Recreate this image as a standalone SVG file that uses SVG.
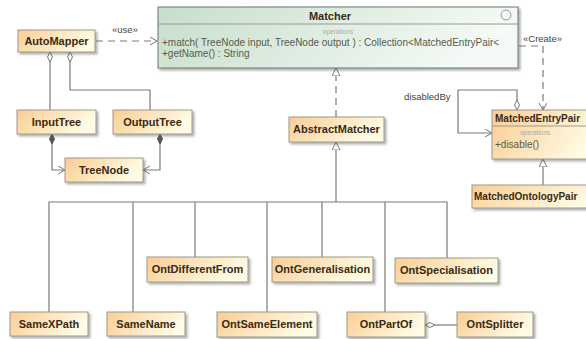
<svg xmlns="http://www.w3.org/2000/svg" width="586" height="339" viewBox="0 0 586 339">
<defs>
<linearGradient id="gOr" x1="0" y1="0" x2="1" y2="0.3"><stop offset="0" stop-color="#fbcd95"/><stop offset="1" stop-color="#fffbe4"/></linearGradient>
<linearGradient id="gGr" x1="0" y1="0" x2="1" y2="0.2"><stop offset="0" stop-color="#c6decb"/><stop offset="1" stop-color="#f5faf6"/></linearGradient>
<filter id="sh" x="-10%" y="-20%" width="130%" height="160%"><feDropShadow dx="2" dy="2" stdDeviation="1" flood-color="#555" flood-opacity="0.45"/></filter>
<marker id="tri" markerUnits="userSpaceOnUse" markerWidth="10" markerHeight="10" refX="8" refY="4" orient="auto"><path d="M0,0 L8,4 L0,8 z" fill="#fff" stroke="#777" stroke-width="1"/></marker>
<marker id="arr" markerUnits="userSpaceOnUse" markerWidth="10" markerHeight="10" refX="7" refY="4" orient="auto"><path d="M0,0 L7,4 L0,8" fill="none" stroke="#777" stroke-width="1"/></marker>
<marker id="dia" markerUnits="userSpaceOnUse" markerWidth="12" markerHeight="8" refX="0" refY="3" orient="auto"><path d="M0,3 L5,0.5 L10,3 L5,5.5 z" fill="#fff" stroke="#777" stroke-width="1"/></marker>
<marker id="fdia" markerUnits="userSpaceOnUse" markerWidth="12" markerHeight="8" refX="0" refY="3" orient="auto"><path d="M0,3 L5,0.5 L10,3 L5,5.5 z" fill="#555" stroke="#555" stroke-width="1"/></marker>
</defs>
<style>
.box{fill:url(#gOr);stroke:#9a9a8a;stroke-width:1;filter:url(#sh)}
.gbox{fill:url(#gGr);stroke:#7d8a80;stroke-width:1.2;filter:url(#sh)}
.nm{font-family:"Liberation Sans",Arial,sans-serif;font-weight:bold;font-size:11px;fill:#3a2a12;text-anchor:middle}
.nl{font-family:"Liberation Sans",Arial,sans-serif;font-weight:bold;font-size:10px;fill:#3a2a12}
.op{font-family:"Liberation Sans",Arial,sans-serif;font-size:6.5px;fill:#aaa}
.mt{font-family:"Liberation Sans",Arial,sans-serif;font-size:10px;fill:#5a5a4a}
.lb{font-family:"Liberation Sans",Arial,sans-serif;font-size:9.5px;fill:#444}
.ln{fill:none;stroke:#7a7a7a;stroke-width:1.2}
.dl{fill:none;stroke:#7a7a7a;stroke-width:1.2;stroke-dasharray:7,5}
.sep{stroke:#9a9a8a;stroke-width:1}
</style>
<rect width="586" height="339" fill="#fff"/>
<g id="connectors">
<path class="dl" d="M96,41 L157,41" marker-end="url(#arr)"/>
<text class="lb" x="112" y="33">«use»</text>
<path class="ln" d="M50,52 L50,110" marker-start="url(#dia)"/>
<path class="ln" d="M70,52 L70,90 L150,90 L150,110" marker-start="url(#dia)"/>
<path class="ln" d="M52,134 L52,170 L65,170" marker-start="url(#fdia)" marker-end="url(#arr)"/>
<path class="ln" d="M160,134 L160,170 L143,170" marker-start="url(#fdia)" marker-end="url(#arr)"/>
<path class="dl" d="M336,117 L336,68" marker-end="url(#tri)"/>
<path class="ln" d="M336,202 L336,142" marker-end="url(#tri)"/>
<path class="ln" d="M49,312 L49,202 L447,202 L447,258"/>
<path class="ln" d="M133,312 L133,202"/>
<path class="ln" d="M195,257 L195,202"/>
<path class="ln" d="M267,312 L267,202"/>
<path class="ln" d="M322,257 L322,202"/>
<path class="ln" d="M385,312 L385,202"/>
<path class="ln" d="M425,325 L457,325" marker-start="url(#dia)"/>
<path class="dl" d="M519,46 L543,46 L543,110" marker-end="url(#arr)"/>
<text class="lb" x="523" y="42">«Create»</text>
<path class="ln" d="M517,110 L517,90 L458,90 L458,133 L492,133" marker-start="url(#dia)" marker-end="url(#arr)"/>
<text class="lb" x="404" y="100">disabledBy</text>
<path class="ln" d="M543,185 L543,159" marker-end="url(#tri)"/>
</g>
<g id="Matcher">
<rect class="gbox" x="158" y="7" width="360" height="61"/>
<line class="sep" x1="158" y1="24" x2="518" y2="24" stroke="#7d8a80"/>
<text class="nm" x="330" y="20">Matcher</text>
<circle cx="506" cy="15" r="5" fill="none" stroke="#999" stroke-width="1"/>
<text class="op" x="338" y="34" text-anchor="middle">operations</text>
<text class="mt" x="162" y="46">+match( TreeNode input, TreeNode output ) : Collection&lt;MatchedEntryPair&lt;</text>
<text class="mt" x="162" y="57">+getName() : String</text>
</g>
<g id="AutoMapper"><rect class="box" x="18" y="30" width="77" height="22"/><text class="nm" x="56.5" y="45">AutoMapper</text></g>
<g id="InputTree"><rect class="box" x="17" y="110" width="79" height="24"/><text class="nm" x="56.5" y="126">InputTree</text></g>
<g id="OutputTree"><rect class="box" x="113" y="110" width="79" height="24"/><text class="nm" x="152.5" y="126">OutputTree</text></g>
<g id="TreeNode"><rect class="box" x="65" y="158" width="78" height="24"/><text class="nm" x="104" y="174">TreeNode</text></g>
<g id="AbstractMatcher"><rect class="box" x="289" y="117" width="95" height="25"/><text class="nm" x="336.5" y="133">AbstractMatcher</text></g>
<g id="MatchedEntryPair"><rect class="box" x="492" y="110" width="110" height="49"/><line class="sep" x1="492" y1="126" x2="586" y2="126"/><text class="nl" x="495" y="122">MatchedEntryPair</text><text class="op" x="520" y="135">operations</text><text class="mt" x="495" y="148">+disable()</text></g>
<g id="MatchedOntologyPair"><rect class="box" x="472" y="185" width="130" height="23"/><text class="nl" x="474" y="200">MatchedOntologyPair</text></g>
<g id="OntDifferentFrom"><rect class="box" x="147" y="257" width="101" height="25"/><text class="nm" x="197.5" y="273">OntDifferentFrom</text></g>
<g id="OntGeneralisation"><rect class="box" x="272" y="257" width="101" height="25"/><text class="nm" x="322.5" y="273">OntGeneralisation</text></g>
<g id="OntSpecialisation"><rect class="box" x="395" y="258" width="103" height="25"/><text class="nm" x="446.5" y="274">OntSpecialisation</text></g>
<g id="SameXPath"><rect class="box" x="10" y="312" width="78" height="24"/><text class="nm" x="49" y="328">SameXPath</text></g>
<g id="SameName"><rect class="box" x="107" y="312" width="78" height="24"/><text class="nm" x="146" y="328">SameName</text></g>
<g id="OntSameElement"><rect class="box" x="217" y="312" width="100" height="25"/><text class="nm" x="267" y="328">OntSameElement</text></g>
<g id="OntPartOf"><rect class="box" x="347" y="312" width="78" height="25"/><text class="nm" x="386" y="328">OntPartOf</text></g>
<g id="OntSplitter"><rect class="box" x="457" y="312" width="76" height="25"/><text class="nm" x="495" y="328">OntSplitter</text></g>
</svg>
